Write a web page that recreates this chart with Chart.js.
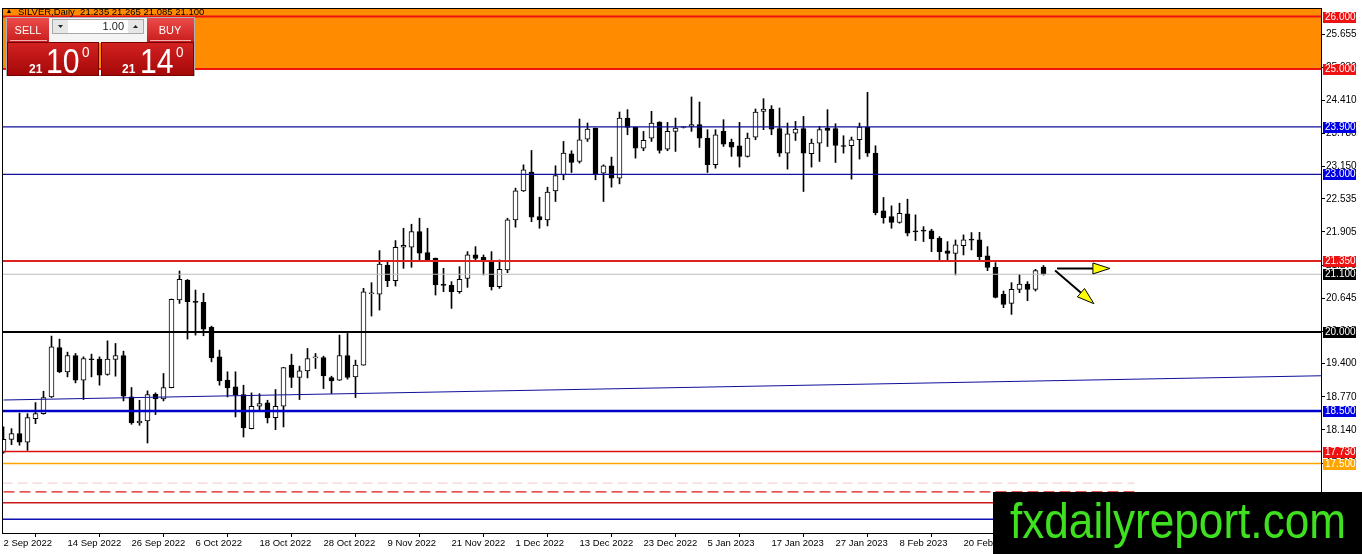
<!DOCTYPE html>
<html><head><meta charset="utf-8">
<script src="https://cdn.jsdelivr.net/npm/chart.js@4/dist/chart.umd.min.js"></script>
<style>html,body{margin:0;padding:0;background:#fff;overflow:hidden}#wrap{width:1362px;height:554px;position:relative}canvas{display:block}</style>
</head><body><div id="wrap"><canvas id="c" width="1362" height="554"></canvas></div>
<script>
// ---- DATA (SILVER, Daily) ----
const opens = [17.72,17.96,18.07,17.91,18.356,18.451,18.768,19.708,19.245,19.556,19.086,19.49,19.486,19.194,19.48,19.556,18.768,18.273,18.311,18.819,18.73,18.946,20.61,20.99,20.57,20.565,20.089,19.53,19.086,18.959,18.813,18.165,18.591,18.654,18.375,18.591,19.372,19.137,19.264,19.51,19.518,19.137,19.086,19.556,19.149,19.372,20.73,20.72,21.276,20.978,21.613,21.613,21.911,21.511,21.403,20.9,20.895,20.768,21.022,21.467,21.42,21.34,20.863,21.181,22.133,22.686,23.041,22.197,22.133,22.686,22.99,23.39,23.244,23.67,23.879,23.022,23.162,22.927,24.07,23.892,23.498,23.689,23.994,23.479,23.816,23.89,23.911,23.943,23.689,23.181,23.816,23.606,23.543,23.34,23.708,24.197,24.241,23.867,23.403,23.784,23.867,23.39,23.594,23.879,23.867,23.53,23.543,23.657,23.892,23.403,22.305,22.197,22.083,22.248,21.911,21.924,21.924,21.784,21.543,21.498,21.644,21.752,21.752,21.448,21.232,20.717,20.546,20.813,20.914,20.813,21.235];
const highs = [18.2,18.165,18.46,18.45,18.66,18.876,19.924,19.867,19.619,19.594,19.53,19.581,19.53,19.835,19.784,19.638,18.946,18.705,18.883,18.845,19.213,20.63,21.162,21.0,20.8,20.737,20.114,19.657,19.245,19.245,18.991,18.845,18.83,18.705,18.908,19.33,19.581,19.353,19.689,19.594,19.543,19.162,19.943,19.975,19.467,20.832,20.94,21.549,21.353,21.74,21.975,22.051,22.165,21.975,21.41,21.213,20.959,21.244,21.53,21.625,21.467,21.53,21.372,22.165,22.737,23.181,23.454,22.565,22.756,23.162,23.625,23.448,24.051,23.975,23.88,23.18,23.327,24.184,24.229,23.9,23.816,24.197,24.0,23.987,24.07,23.9,24.47,24.375,23.848,23.848,24.038,23.67,23.987,23.784,24.241,24.438,24.305,24.26,23.975,24.006,24.1,23.67,23.911,24.229,23.962,23.733,23.708,23.975,24.559,23.543,22.559,22.4,22.451,22.527,22.229,22.006,21.956,21.816,21.721,21.752,21.848,21.892,21.898,21.625,21.321,20.781,20.94,21.098,20.959,21.194,21.265];
const lows = [17.70,17.86,17.85,17.752,18.26,18.44,18.756,19.23,19.149,19.035,18.718,19.149,18.991,19.18,19.162,18.692,18.248,18.229,17.892,18.432,18.692,18.94,20.546,19.867,19.943,19.93,19.435,18.991,18.768,18.387,18.006,18.16,18.514,18.273,18.146,18.197,18.946,18.718,19.13,19.308,18.927,18.832,19.08,19.105,18.756,19.37,20.305,20.419,20.864,20.876,21.213,21.232,21.372,21.359,20.705,20.768,20.451,20.737,20.851,21.372,21.086,20.8,20.832,21.13,21.994,22.673,22.1,21.975,22.019,22.483,22.895,23.035,23.213,23.625,22.895,22.483,22.756,22.819,23.752,23.308,23.448,23.625,23.403,23.448,23.435,23.88,23.816,23.511,23.035,23.117,23.53,23.34,23.137,23.327,23.657,23.848,23.752,23.34,23.098,23.644,22.673,23.137,23.244,23.529,23.225,23.403,22.908,23.289,23.34,22.229,22.07,21.975,22.07,21.829,21.74,21.721,21.53,21.34,21.34,21.086,21.467,21.562,21.34,21.168,20.65,20.464,20.337,20.749,20.597,20.781,21.085];
const closes = [17.96,18.07,17.91,18.375,18.451,18.756,19.721,19.245,19.556,19.086,19.499,19.475,19.181,19.486,19.556,18.781,18.273,18.311,18.813,18.73,18.946,20.622,21.003,20.578,20.565,20.057,19.511,19.073,18.94,18.8,18.178,18.591,18.64,18.375,18.591,19.327,19.137,19.264,19.499,19.512,19.168,19.073,19.556,19.137,19.372,20.768,20.74,21.295,20.978,21.613,21.651,21.911,21.5,21.372,20.895,20.89,20.768,21.003,21.467,21.403,21.36,20.863,21.194,22.133,22.686,23.086,22.184,22.133,22.66,22.978,23.403,23.225,23.657,23.86,23.01,23.162,22.927,24.07,23.892,23.498,23.644,23.975,23.454,23.816,23.879,23.893,23.943,23.689,23.181,23.752,23.575,23.517,23.34,23.689,24.184,24.241,23.86,23.403,23.771,23.86,23.403,23.594,23.848,23.835,23.549,23.528,23.657,23.898,23.403,22.273,22.178,22.083,22.26,21.879,21.905,21.92,21.772,21.53,21.498,21.657,21.752,21.75,21.435,21.232,20.66,20.527,20.813,20.914,20.813,21.168,21.1];
const tickLabels = ['2 Sep 2022','14 Sep 2022','26 Sep 2022','6 Oct 2022','18 Oct 2022','28 Oct 2022','9 Nov 2022','21 Nov 2022','1 Dec 2022','13 Dec 2022','23 Dec 2022','5 Jan 2023','17 Jan 2023','27 Jan 2023','8 Feb 2023','20 Feb 2023'];
const yTicks = [25.655,25.030,24.410,23.780,23.150,22.535,21.905,21.275,20.645,20.015,19.400,18.770,18.140,17.510];
const levelValues = [26.0,25.0,23.9,23.0,21.35,21.1,20.0,18.5,17.73,17.5,17.13,16.962,16.756,16.442];
const labelledLevels = [26.0,25.0,23.9,23.0,21.35,21.1,20.0,18.5,17.73,17.5];
const trendValues = [18.71,19.17];          // trend line at first bar and right edge
const zoneLow = 25.0;                        // orange resistance zone
const header = 'SILVER,Daily  21.235 21.265 21.085 21.100';
const arrowPoints = [[131.7,21.21,138.3,21.21],[131.45,21.17,136.3,20.54]];
const priceBid = ['21','10','0'], priceAsk = ['21','14','0'], lotSize = '1.00';

// ---- STYLES ----
const BAR_SPAN = 164.75;
const levelStyles = [
  {c:'#ee1111',w:2},{c:'#ee1111',w:2},{c:'#10109a',w:1.2},{c:'#10109a',w:1.2},{c:'#dd2222',w:2},
  {c:'#bdbdbd',w:1.2},{c:'#000000',w:2},{c:'#0000c8',w:2.6},{c:'#dd1111',w:1.4},{c:'#ffa500',w:1.5},
  {c:'#f1d4d4',w:1.2,d:[10,5],end:141.4},{c:'#dd1a1a',w:1.4,d:[11,5],end:141.4},{c:'#cc1a1a',w:1.3},{c:'#1010b0',w:1.4}
];
const labelStyles = ['#ee1111','#ee1111','#0000e6','#0000e6','#ee1111','#000000','#000000','#0000e6','#ee1111','#ffa500'];

const xMin = -0.0625, xMax = xMin + BAR_SPAN;
const datasets = [];
levelValues.forEach((v,k)=>{
  const s = levelStyles[k];
  datasets.push({type:'line', data:[{x:-2,y:v},{x:s.end!==undefined?s.end:200,y:v}], borderColor:s.c, borderWidth:s.w,
    borderDash:s.d||[], pointRadius:0, fill:false, order:1, clip:0});
});
datasets.push({type:'line', data:[{x:0,y:trendValues[0]},{x:BAR_SPAN,y:trendValues[1]}], borderColor:'#10109a', borderWidth:1.1, pointRadius:0, fill:false, order:1, clip:0});
datasets.push({type:'line', data:[{x:-2,y:zoneLow},{x:200,y:zoneLow}], borderColor:'rgba(0,0,0,0)', borderWidth:0, pointRadius:0,
  fill:{value:30}, backgroundColor:'#ff8c00', order:9, clip:0});
datasets.push({type:'bar', data:opens.map((o,i)=>({x:i,y:[o,closes[i]]})), backgroundColor:opens.map((o,i)=>closes[i]>=o?'#ffffff':'#000000'),
  borderColor:'#000', borderWidth:1, borderSkipped:false, barThickness:5, minBarLength:1, grouped:false, order:2});
datasets.push({type:'bar', data:lows.map((l,i)=>({x:i,y:[l,highs[i]]})), backgroundColor:'#000', borderWidth:0, barThickness:1, grouped:false, order:3});

function drawArrow(ctx,x1,y1,x2,y2){
  const a=Math.atan2(y2-y1,x2-x1), L=17, W=5.5;
  const bx=x2-L*Math.cos(a), by=y2-L*Math.sin(a);
  ctx.save(); ctx.strokeStyle='#000'; ctx.lineWidth=2;
  ctx.beginPath(); ctx.moveTo(x1,y1); ctx.lineTo(bx,by); ctx.stroke();
  ctx.beginPath(); ctx.moveTo(x2,y2);
  ctx.lineTo(bx+W*Math.sin(a),by-W*Math.cos(a)); ctx.lineTo(bx-W*Math.sin(a),by+W*Math.cos(a)); ctx.closePath();
  ctx.fillStyle='#ffff00'; ctx.fill(); ctx.lineWidth=1; ctx.stroke(); ctx.restore();
}
function vgrad(ctx,x,y,w,h,c1,c2){const g=ctx.createLinearGradient(0,y,0,y+h);g.addColorStop(0,c1);g.addColorStop(1,c2);ctx.fillStyle=g;ctx.fillRect(x,y,w,h);}
function sqText(ctx,t,x,y,font,sx,align){ctx.save();ctx.font=font;ctx.textAlign=align||'left';ctx.translate(x,y);ctx.scale(sx,1);ctx.fillText(t,0,0);ctx.restore();}

const overlay = {
  id:'overlay',
  afterDatasetsDraw(chart){
    const ctx=chart.ctx, xs=chart.scales.x, ys=chart.scales.y, ca=chart.chartArea;
    ctx.save(); ctx.strokeStyle='#000'; ctx.lineWidth=1;
    ctx.strokeRect(ca.left-0.5,ca.top-0.5,ca.right-ca.left+1,ca.bottom-ca.top+1); ctx.restore();
    arrowPoints.forEach(p=>drawArrow(ctx,xs.getPixelForValue(p[0]),ys.getPixelForValue(p[1]),xs.getPixelForValue(p[2]),ys.getPixelForValue(p[3])));
  },
  afterDraw(chart){
    const ctx=chart.ctx, ys=chart.scales.y, ca=chart.chartArea;
    // axis price labels
    ctx.save(); ctx.font='10px "Liberation Sans", Arial, sans-serif'; ctx.textBaseline='middle';
    labelledLevels.forEach((v,k)=>{
      const y=Math.round(ys.getPixelForValue(v));
      ctx.fillStyle=labelStyles[k]; ctx.fillRect(ca.right+2,y-5,33,11);
      ctx.fillStyle='#fff'; ctx.fillText(v.toFixed(3),ca.right+4,y+0.5);
    });
    ctx.restore();
    // header
    ctx.save(); ctx.fillStyle='#000';
    ctx.beginPath(); ctx.moveTo(7,13); ctx.lineTo(11,13); ctx.lineTo(9,9); ctx.closePath(); ctx.fill();
    ctx.font='9.5px "Liberation Sans", Arial, sans-serif'; ctx.textBaseline='alphabetic'; ctx.fillText(header,18,14.5);
    ctx.restore();
    // trading panel
    ctx.save();
    ctx.fillStyle='#f4f4f4'; ctx.fillRect(6,17,189,26);
    ctx.strokeStyle='#b0b0b0'; ctx.strokeRect(6.5,17.5,188,58);
    vgrad(ctx,7,18,42,24,'#ec4c4a','#c81c1c');
    vgrad(ctx,147,18,47,24,'#ec4c4a','#c81c1c');
    ctx.fillStyle='#f3b0b0'; ctx.fillRect(10,40,37,1); ctx.fillRect(150,40,41,1);
    vgrad(ctx,7,42,92,34,'#d42222','#a30707');
    vgrad(ctx,101,42,93,34,'#d42222','#a30707');
    ctx.strokeStyle='#7a0000'; ctx.lineWidth=1; ctx.strokeRect(7.5,42.5,91,33); ctx.strokeRect(101.5,42.5,92,33);
    // lot box
    ctx.fillStyle='#e6e6e6'; ctx.fillRect(52,19,16,15); ctx.fillRect(128,19,16,15);
    ctx.fillStyle='#ffffff'; ctx.fillRect(68,19,60,15);
    ctx.strokeStyle='#a8a8a8'; ctx.strokeRect(52.5,19.5,91,14);
    ctx.fillStyle='#222';
    ctx.beginPath(); ctx.moveTo(58,25); ctx.lineTo(63,25); ctx.lineTo(60.5,28); ctx.closePath(); ctx.fill();
    ctx.beginPath(); ctx.moveTo(133,28); ctx.lineTo(138,28); ctx.lineTo(135.5,25); ctx.closePath(); ctx.fill();
    ctx.font='11px "Liberation Sans", Arial, sans-serif'; ctx.textAlign='right'; ctx.fillText(lotSize,124,30);
    ctx.fillStyle='#fff'; ctx.textAlign='center'; ctx.font='11px "Liberation Sans", Arial, sans-serif';
    ctx.fillText('SELL',28,34); ctx.fillText('BUY',170,34);
    ctx.textAlign='left';
    sqText(ctx,priceBid[0],29,73,'bold 12px "Liberation Sans", Arial, sans-serif',1);
    sqText(ctx,priceBid[1],46,73,'35px "Liberation Sans", Arial, sans-serif',0.86);
    sqText(ctx,priceBid[2],82,57,'15px "Liberation Sans", Arial, sans-serif',0.9);
    sqText(ctx,priceAsk[0],122,73,'bold 12px "Liberation Sans", Arial, sans-serif',1);
    sqText(ctx,priceAsk[1],140,73,'35px "Liberation Sans", Arial, sans-serif',0.86);
    sqText(ctx,priceAsk[2],176,57,'15px "Liberation Sans", Arial, sans-serif',0.9);
    ctx.restore();
    // watermark
    ctx.save(); ctx.fillStyle='#000'; ctx.fillRect(993,492,369,62);
    ctx.fillStyle='#3fe020'; ctx.font='50px "Liberation Sans", Arial, sans-serif';
    const w=ctx.measureText('fxdailyreport.com').width;
    ctx.translate(1010,538); ctx.scale(336/w,1); ctx.fillText('fxdailyreport.com',0,0);
    ctx.restore();
  }
};

new Chart(document.getElementById('c'),{
  type:'bar',
  data:{datasets},
  plugins:[overlay],
  options:{
    responsive:false, animation:false,
    layout:{padding:{left:3,top:9,right:0,bottom:0}},
    plugins:{legend:{display:false},tooltip:{enabled:false}},
    scales:{
      x:{type:'linear',min:xMin,max:xMax,offset:false,
        afterBuildTicks(ax){ax.ticks=tickLabels.map((_,k)=>({value:k*8}));},
        afterFit(ax){ax.height=21;},
        grid:{drawOnChartArea:false,drawTicks:true,tickLength:4,tickColor:'#000'},
        border:{display:true,color:'#000'},
        ticks:{autoSkip:false,maxRotation:0,minRotation:0,align:'start',padding:1,color:'#000',
          font:{family:'"Liberation Sans", Arial, sans-serif',size:9.5},callback:(v,i)=>tickLabels[i]}},
      y:{position:'right',min:16.181,max:26.1426,
        afterBuildTicks(ax){ax.ticks=yTicks.map(v=>({value:v}));},
        afterFit(ax){ax.width=41;},
        grid:{drawOnChartArea:false,drawTicks:true,tickLength:4,tickColor:'#000'},
        border:{display:true,color:'#000'},
        ticks:{autoSkip:false,padding:1,color:'#000',font:{family:'"Liberation Sans", Arial, sans-serif',size:10},
          callback:v=>Number(v).toFixed(3)}}
    }
  }
});
</script></body></html>
